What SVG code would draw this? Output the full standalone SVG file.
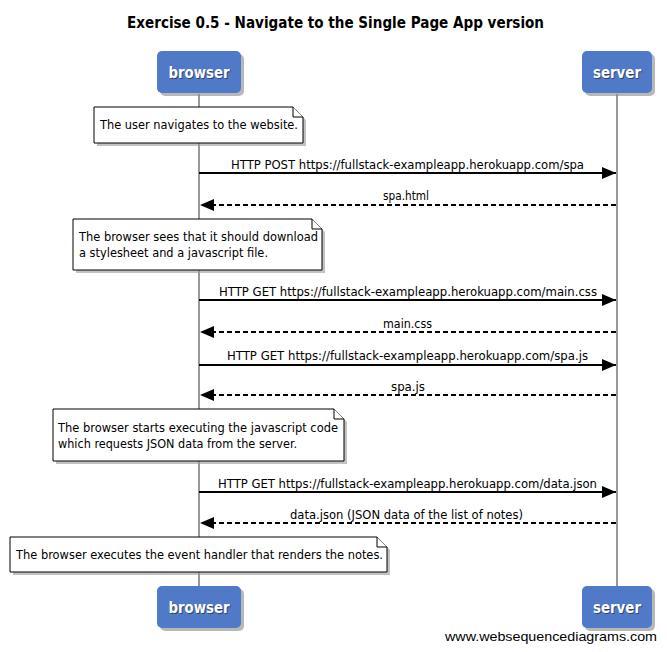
<svg xmlns="http://www.w3.org/2000/svg" width="667" height="652" viewBox="0 0 667 652">
<defs>
<style>
.title{font-family:"DejaVu Sans","Liberation Sans",sans-serif;font-size:16px;fill:#000;}
.lbl{font-family:"DejaVu Sans Condensed","Liberation Sans",sans-serif;font-size:12.5px;fill:#000;}
.note-t{font-family:"DejaVu Sans Condensed","Liberation Sans",sans-serif;font-size:13px;fill:#000;}
.pbox{fill:#5079c7;}
.pshadow{fill:#888;opacity:0.6;}
.ptext{font-family:"DejaVu Sans","Liberation Sans",sans-serif;font-size:16px;font-weight:bold;fill:#fff;text-anchor:middle;}
.ptshadow{font-family:"DejaVu Sans","Liberation Sans",sans-serif;font-size:16px;font-weight:bold;fill:#223;text-anchor:middle;opacity:0.6;}
.life{stroke:#999;stroke-width:2;fill:none;}
.note{fill:#fff;stroke:#000;stroke-width:1;}
.nshadow{fill:#999;opacity:0.6;}
.msg{stroke:#000;stroke-width:2;fill:none;}
.ret{stroke:#000;stroke-width:2;fill:none;stroke-dasharray:5,3;}
.foot{font-family:"Liberation Sans",Arial,sans-serif;font-size:13px;fill:#000;}
</style>
<marker id="ah" markerWidth="14" markerHeight="12" refX="14" refY="6" orient="auto" markerUnits="userSpaceOnUse">
<path d="M0,0 L14,6 L0,12 Z" fill="#000"/>
</marker>
</defs>
<rect width="667" height="652" fill="#fff"/>
<text class="title" x="127" y="28" textLength="417" lengthAdjust="spacingAndGlyphs" font-weight="bold">Exercise 0.5 - Navigate to the Single Page App version</text>

<g id="lifelines">
<line class="life" x1="199" y1="94" x2="199" y2="586"/>
<line class="life" x1="617" y1="94" x2="617" y2="586"/>
</g>

<g id="browser-top">
<rect class="pshadow" x="160" y="54" width="84" height="42" rx="5"/>
<rect class="pbox" x="157" y="51" width="84" height="42" rx="5"/>
<text class="ptshadow" x="200" y="79" textLength="61" lengthAdjust="spacingAndGlyphs">browser</text>
<text class="ptext" x="199" y="78" textLength="61" lengthAdjust="spacingAndGlyphs">browser</text>
</g>
<g id="server-top">
<rect class="pshadow" x="585" y="54" width="70" height="42" rx="5"/>
<rect class="pbox" x="582" y="51" width="70" height="42" rx="5"/>
<text class="ptshadow" x="618" y="79" textLength="48" lengthAdjust="spacingAndGlyphs">server</text>
<text class="ptext" x="617" y="78" textLength="48" lengthAdjust="spacingAndGlyphs">server</text>
</g>
<g id="browser-bottom">
<rect class="pshadow" x="160" y="589" width="84" height="42" rx="5"/>
<rect class="pbox" x="157" y="586" width="84" height="42" rx="5"/>
<text class="ptshadow" x="200" y="614" textLength="61" lengthAdjust="spacingAndGlyphs">browser</text>
<text class="ptext" x="199" y="613" textLength="61" lengthAdjust="spacingAndGlyphs">browser</text>
</g>
<g id="server-bottom">
<rect class="pshadow" x="585" y="589" width="70" height="42" rx="5"/>
<rect class="pbox" x="582" y="586" width="70" height="42" rx="5"/>
<text class="ptshadow" x="618" y="614" textLength="48" lengthAdjust="spacingAndGlyphs">server</text>
<text class="ptext" x="617" y="613" textLength="48" lengthAdjust="spacingAndGlyphs">server</text>
</g>

<g id="note1">
<path class="nshadow" d="M97,110 H296 L306,120 V146 H97 Z"/>
<path class="note" d="M94,107 H293 L303,117 V143 H94 Z"/>
<path class="note" d="M293,107 V117 H303"/>
<text class="note-t" x="100" y="129" textLength="198" lengthAdjust="spacingAndGlyphs">The user navigates to the website.</text>
</g>
<g id="note2">
<path class="nshadow" d="M76,222 H315 L325,232 V273 H76 Z"/>
<path class="note" d="M73,219 H312 L322,229 V270 H73 Z"/>
<path class="note" d="M312,219 V229 H322"/>
<text class="note-t" x="79" y="241" textLength="239" lengthAdjust="spacingAndGlyphs">The browser sees that it should download</text>
<text class="note-t" x="79" y="257" textLength="189" lengthAdjust="spacingAndGlyphs">a stylesheet and a javascript file.</text>
</g>
<g id="note3">
<path class="nshadow" d="M56,412 H337 L347,422 V464 H56 Z"/>
<path class="note" d="M53,409 H334 L344,419 V461 H53 Z"/>
<path class="note" d="M334,409 V419 H344"/>
<text class="note-t" x="58" y="432" textLength="280" lengthAdjust="spacingAndGlyphs">The browser starts executing the javascript code</text>
<text class="note-t" x="58" y="448" textLength="239" lengthAdjust="spacingAndGlyphs">which requests JSON data from the server.</text>
</g>
<g id="note4">
<path class="nshadow" d="M13,540 H380 L390,550 V575 H13 Z"/>
<path class="note" d="M10,537 H377 L387,547 V572 H10 Z"/>
<path class="note" d="M377,537 V547 H387"/>
<text class="note-t" x="16" y="559" textLength="367" lengthAdjust="spacingAndGlyphs">The browser executes the event handler that renders the notes.</text>
</g>

<g id="connectors">
<line class="msg" x1="199" y1="173" x2="616" y2="173" marker-end="url(#ah)"/>
<text class="lbl" x="231" y="169" textLength="353" lengthAdjust="spacingAndGlyphs">HTTP POST https://fullstack-exampleapp.herokuapp.com/spa</text>
<line class="ret" x1="616" y1="205" x2="200" y2="205" marker-end="url(#ah)"/>
<text class="lbl" x="383" y="200" textLength="46" lengthAdjust="spacingAndGlyphs">spa.html</text>

<line class="msg" x1="199" y1="300" x2="616" y2="300" marker-end="url(#ah)"/>
<text class="lbl" x="219" y="296" textLength="378" lengthAdjust="spacingAndGlyphs">HTTP GET https://fullstack-exampleapp.herokuapp.com/main.css</text>
<line class="ret" x1="616" y1="332" x2="200" y2="332" marker-end="url(#ah)"/>
<text class="lbl" x="383" y="328" textLength="49" lengthAdjust="spacingAndGlyphs">main.css</text>

<line class="msg" x1="199" y1="365" x2="616" y2="365" marker-end="url(#ah)"/>
<text class="lbl" x="227" y="360" textLength="361" lengthAdjust="spacingAndGlyphs">HTTP GET https://fullstack-exampleapp.herokuapp.com/spa.js</text>
<line class="ret" x1="616" y1="395" x2="200" y2="395" marker-end="url(#ah)"/>
<text class="lbl" x="391" y="391" textLength="34" lengthAdjust="spacingAndGlyphs">spa.js</text>

<line class="msg" x1="199" y1="492" x2="616" y2="492" marker-end="url(#ah)"/>
<text class="lbl" x="218" y="488" textLength="379" lengthAdjust="spacingAndGlyphs">HTTP GET https://fullstack-exampleapp.herokuapp.com/data.json</text>
<line class="ret" x1="616" y1="523" x2="200" y2="523" marker-end="url(#ah)"/>
<text class="lbl" x="290" y="519" textLength="233" lengthAdjust="spacingAndGlyphs">data.json (JSON data of the list of notes)</text>
</g>

<text class="foot" x="445" y="641" textLength="212" lengthAdjust="spacingAndGlyphs">www.websequencediagrams.com</text>
</svg>
